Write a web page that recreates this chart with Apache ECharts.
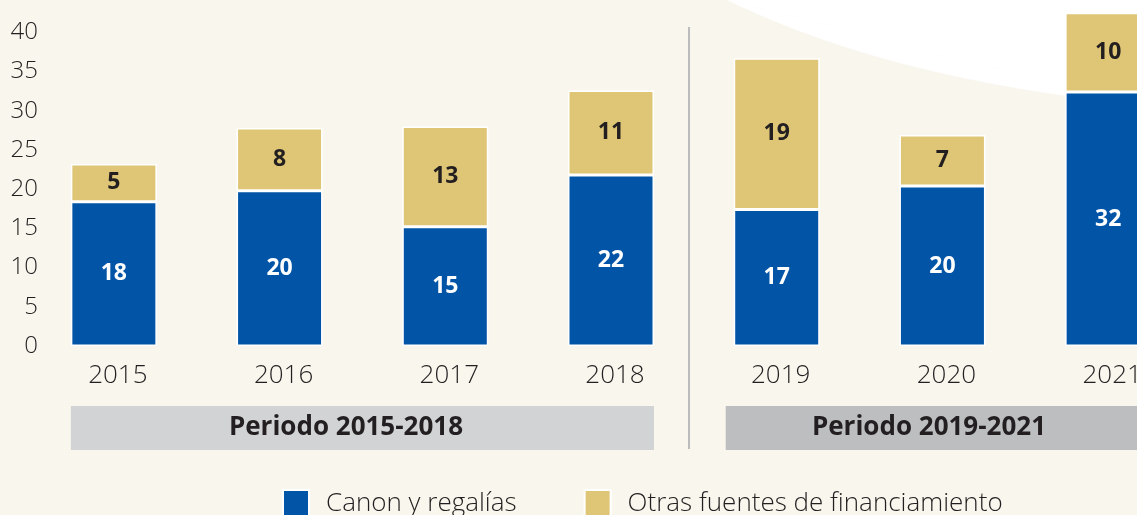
<!DOCTYPE html>
<html>
<head>
<meta charset="utf-8">
<script src="https://cdn.jsdelivr.net/npm/echarts@6/dist/echarts.min.js"></script>
<style>
html, body { margin: 0; padding: 0; background: #f9f6ee; }
#chart { width: 1137px; height: 515px; }
</style>
</head>
<body>
<div id="chart"></div>
<script>
const years = ['2015', '2016', '2017', '2018', '2019', '2020', '2021'];
const canon = [18.4, 19.8, 15.2, 21.8, 17.4, 20.4, 32.4];
const otras = [4.8, 8.0, 12.8, 10.8, 19.3, 6.5, 10.1];
const seriesNames = ['Canon y regalías', 'Otras fuentes de financiamiento'];
const periods = ['Periodo 2015-2018', 'Periodo 2019-2021'];

const font = '"Open Sans", sans-serif';
const ink = '#231f20';
const chart = echarts.init(document.getElementById('chart'));

const barLabel = color => ({
    show: true,
    position: 'inside',
    color: color,
    fontSize: 23,
    fontWeight: 'bold',
    fontFamily: font,
    formatter: p => Math.round(p.value)
});

chart.setOption({
    backgroundColor: '#f9f6ee',
    animation: false,
    textStyle: { fontFamily: font },
    grid: { left: 31, top: 1, width: 1160, height: 345, outerBoundsMode: 'none' },
    legend: {
        left: 282,
        top: 489,
        padding: 0,
        icon: 'rect',
        itemWidth: 26,
        itemHeight: 27,
        itemGap: 67,
        textStyle: { fontSize: 26, color: ink, fontWeight: 300, padding: [0, 0, 0, 12] },
        data: seriesNames
    },
    xAxis: {
        type: 'category',
        data: years,
        axisLine: { show: false },
        axisTick: { show: false },
        axisLabel: { fontSize: 26, color: ink, fontWeight: 300, margin: 17, padding: [0, 0, 0, 8] }
    },
    yAxis: {
        type: 'value',
        min: 0,
        max: 44,
        interval: 5,
        splitLine: { show: false },
        axisLine: { show: false },
        axisTick: { show: false },
        axisLabel: {
            fontSize: 24,
            color: ink,
            fontWeight: 300,
            margin: -7,
            formatter: v => (v <= 40 ? v : '')
        }
    },
    series: [{
        name: seriesNames[0],
        type: 'bar',
        stack: 'total',
        barWidth: 86,
        itemStyle: { color: '#0254a6', borderColor: '#fff', borderWidth: 1.5 },
        label: barLabel('#fff'),
        data: canon
    }, {
        name: seriesNames[1],
        type: 'bar',
        stack: 'total',
        barWidth: 86,
        itemStyle: { color: '#dfc676', borderColor: '#fff', borderWidth: 1.5 },
        label: barLabel(ink),
        data: otras
    }]
});

// decorations placed from the category axis
const px = y => chart.convertToPixel({ xAxisIndex: 0 }, y);
const band1L = px('2015') - 43, band1R = px('2018') + 43;
const band2L = px('2019') - 51;
const divX = px('2018') + 78;
const W = chart.getWidth();

chart.setOption({
    graphic: [{
        type: 'polygon',
        z: -10,
        shape: { points: [[728, 0], [W, 0], [W, 104]] },
        style: { fill: '#ffffff' }
    }, {
        type: 'bezierCurve',
        z: -10,
        shape: { x1: 728, y1: 0, cpx1: 820, cpy1: 45, cpx2: 950, cpy2: 85, x2: W, y2: 104 },
        style: { fill: '#ffffff', stroke: '#ffffff', lineWidth: 1 }
    }, {
        type: 'line',
        shape: { x1: divX, y1: 27, x2: divX, y2: 449 },
        style: { stroke: '#a7a9ac', lineWidth: 1.5 }
    }, {
        type: 'rect',
        shape: { x: band1L, y: 406, width: band1R - band1L, height: 44 },
        style: { fill: '#d1d3d4' }
    }, {
        type: 'rect',
        shape: { x: band2L, y: 406, width: W - band2L, height: 44 },
        style: { fill: '#bcbec0' }
    }, {
        type: 'text',
        x: 346,
        y: 428,
        style: {
            text: periods[0], fontSize: 26, fontWeight: 'bold', fontFamily: font,
            fill: ink, align: 'center', verticalAlign: 'middle'
        }
    }, {
        type: 'text',
        x: 929,
        y: 428,
        style: {
            text: periods[1], fontSize: 26, fontWeight: 'bold', fontFamily: font,
            fill: ink, align: 'center', verticalAlign: 'middle'
        }
    }]
});
</script>
</body>
</html>
